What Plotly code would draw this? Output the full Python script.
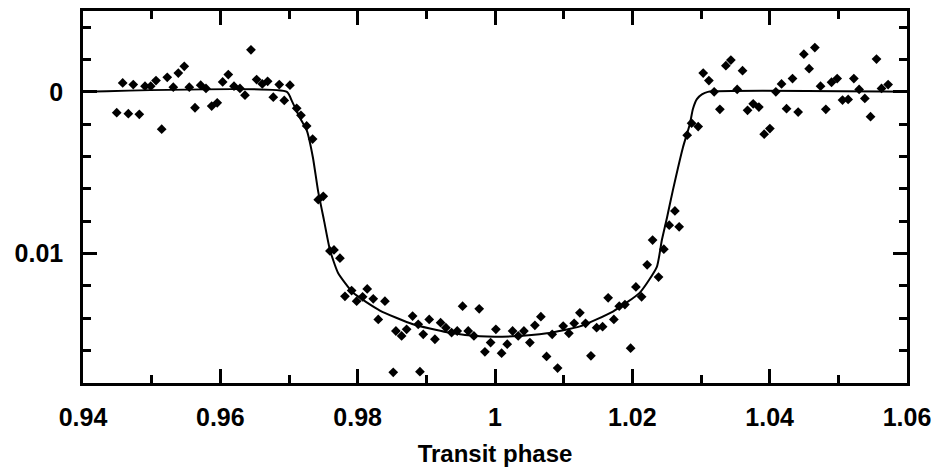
import plotly.graph_objects as go

# Observed light-curve points (transit phase, relative flux drop)
phase = [0.94491, 0.94578, 0.94660, 0.94732, 0.94820, 0.94903, 0.94986, 0.95063, 0.95146, 0.95227,
         0.95315, 0.95388, 0.95475, 0.95548, 0.95631, 0.95714, 0.95791, 0.95874, 0.95955, 0.96034,
         0.96116, 0.96199, 0.96286, 0.96359, 0.96446, 0.96529, 0.96611, 0.96689, 0.96771, 0.96858,
         0.96931, 0.97014, 0.97112, 0.97174, 0.97257, 0.97344, 0.97426, 0.97499, 0.97596, 0.97655,
         0.97742, 0.97815, 0.97912, 0.97985, 0.98072, 0.98139, 0.98227, 0.98300, 0.98397, 0.98518,
         0.98557, 0.98640, 0.98713, 0.98800, 0.98882, 0.98907, 0.98955, 0.99042, 0.99125, 0.99208,
         0.99285, 0.99368, 0.99450, 0.99528, 0.99610, 0.99693, 0.99770, 0.99853, 0.99936, 1.00013,
         1.00096, 1.00178, 1.00256, 1.00338, 1.00421, 1.00508, 1.00581, 1.00668, 1.00751, 1.00833,
         1.00912, 1.00993, 1.01076, 1.01153, 1.01236, 1.01319, 1.01397, 1.01480, 1.01567, 1.01648,
         1.01731, 1.01809, 1.01892, 1.01975, 1.02052, 1.02135, 1.02216, 1.02295, 1.02382, 1.02459,
         1.02537, 1.02620, 1.02682, 1.02799, 1.02863, 1.02959, 1.03032, 1.03115, 1.03192, 1.03275,
         1.03362, 1.03435, 1.03527, 1.03605, 1.03678, 1.03760, 1.03843, 1.03920, 1.04003, 1.04090,
         1.04173, 1.04246, 1.04333, 1.04415, 1.04498, 1.04575, 1.04658, 1.04741, 1.04818, 1.04901,
         1.04983, 1.05061, 1.05143, 1.05226, 1.05303, 1.05386, 1.05469, 1.05556, 1.05629, 1.05725]
depth = [0.001288, -0.000552, 0.001350, -0.000454, 0.001387, -0.000350, -0.000350, -0.000699, 0.002307, -0.000902,
         -0.000288, -0.001166, -0.001577, -0.000288, 0.000982, -0.000411, -0.000209, 0.000877, 0.000675, -0.000614,
         -0.001067, -0.000350, -0.000209, 0.000202, -0.002601, -0.000761, -0.000491, -0.000656, 0.000325, -0.000454,
         0.000528, -0.000411, 0.001018, 0.001448, 0.002104, 0.002920, 0.006663, 0.006460, 0.009834, 0.009773,
         0.010282, 0.012638, 0.012288, 0.012945, 0.012675, 0.012184, 0.012798, 0.014068, 0.012945, 0.017338,
         0.014785, 0.015092, 0.014681, 0.013865, 0.014374, 0.017301, 0.014988, 0.014068, 0.015295, 0.014270,
         0.014577, 0.014884, 0.014785, 0.013252, 0.014785, 0.015092, 0.013411, 0.016074, 0.015497, 0.014681,
         0.016153, 0.015601, 0.014785, 0.015092, 0.014785, 0.015497, 0.014436, 0.013902, 0.016356, 0.014988,
         0.017074, 0.014479, 0.014926, 0.014313, 0.013657, 0.014313, 0.016319, 0.014577, 0.014516, 0.012736,
         0.014068, 0.013252, 0.013147, 0.015847, 0.012061, 0.012675, 0.010693, 0.009160, 0.011448, 0.009730,
         0.008239, 0.007362, 0.008344, 0.002675, 0.001939, 0.002147, -0.001166, -0.000699, 0.000000, 0.001080,
         -0.001620, -0.001963, -0.000147, -0.001313, 0.001141, 0.000736, 0.000939, 0.002614, 0.002270, 0.000000,
         -0.000491, 0.001043, -0.000822, 0.001245, -0.002331, -0.001436, -0.002742, -0.000350, 0.001080, -0.000595,
         -0.000822, 0.000509, 0.000466, -0.000822, -0.000147, 0.000405, 0.001534, -0.002025, -0.000209, -0.000454]

# Model transit curve
model_phase = [0.94000, 0.96970, 0.97043, 0.97160, 0.97261, 0.97349, 0.97422, 0.97509, 0.97596, 0.97713,
               0.97931, 0.98324, 0.98805, 0.99300, 0.99780, 1.00261, 1.00756, 1.01236, 1.01717, 1.02110,
               1.02357, 1.02430, 1.02503, 1.02590, 1.02736, 1.02838, 1.02882, 1.02940, 1.03013, 1.03100, 1.06000]
model_depth = [0.0, 0.0, 0.00057, 0.00161, 0.00241, 0.00407, 0.00609, 0.00793, 0.00977, 0.01118,
               0.01241, 0.01352, 0.01437, 0.01486, 0.01511, 0.01511, 0.01493, 0.01450, 0.01358, 0.01241,
               0.01082, 0.00916, 0.00781, 0.00609, 0.00345, 0.00198, 0.00106, 0.00045, 0.00016, 0.0, 0.0]

x_tickvals = [0.94, 0.96, 0.98, 1.00, 1.02, 1.04, 1.06]
x_ticktext = ["0.94", "0.96", "0.98", "1", "1.02", "1.04", "1.06"]
y_tickvals = [0.0, 0.01]
y_ticktext = ["0", "0.01"]

fig = go.Figure()
fig.add_trace(go.Scatter(x=model_phase, y=model_depth, mode="lines",
                         line=dict(color="black", width=2, shape="spline", smoothing=0.5),
                         hoverinfo="skip", showlegend=False))
fig.add_trace(go.Scatter(x=phase, y=depth, mode="markers",
                         marker=dict(symbol="diamond", size=7.5, color="black"),
                         showlegend=False))

font_family = "Liberation Sans, Arial, Helvetica, sans-serif"
tick_font = dict(family=font_family, size=25, color="black", weight="bold")
axis_common = dict(showline=True, linecolor="black", linewidth=2.5, mirror="ticks",
                   ticks="inside", tickcolor="black", tickwidth=2.5,
                   showgrid=False, zeroline=False, tickfont=tick_font)

fig.update_xaxes(range=[0.94, 1.06], tickvals=x_tickvals, ticktext=x_ticktext, ticklen=14,
                 ticklabelstandoff=10,
                 minor=dict(dtick=0.01, tick0=0.95, ticks="inside", ticklen=8, tickwidth=2.5,
                            tickcolor="black", showgrid=False),
                 title=dict(text="Transit phase",
                            font=dict(family=font_family, size=24, color="black", weight="bold"),
                            standoff=16),
                 **axis_common)
fig.update_yaxes(range=[0.018, -0.005], tickvals=y_tickvals, ticktext=y_ticktext, ticklen=14,
                 ticklabelstandoff=12,
                 minor=dict(dtick=0.002, tick0=0.0, ticks="inside", ticklen=8, tickwidth=2.5,
                            tickcolor="black", showgrid=False),
                 **axis_common)

fig.update_layout(width=939, height=472, margin=dict(l=83, r=32, t=8, b=89),
                  plot_bgcolor="white", paper_bgcolor="white")

fig.write_html("out.html")
